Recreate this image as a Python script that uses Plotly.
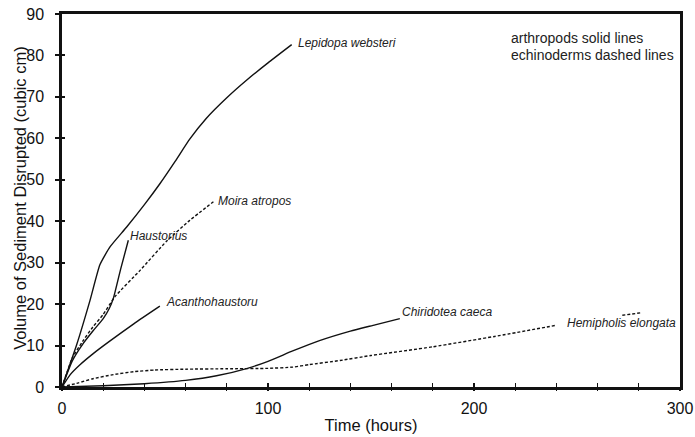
import plotly.graph_objects as go

# ---- data ----
lep_x = [0, 7, 13.6, 18.4, 23.3, 31.4, 40, 47.6, 55, 62, 70, 80, 90, 100, 111.5]
lep_y = [0, 10, 20.9, 29.5, 33.8, 38.6, 44, 49.1, 54.5, 59.8, 64.8, 69.8, 74.2, 78.2, 82.6]

hau_x = [0, 5, 10, 15, 20, 23, 25, 28.5, 32.2]
hau_y = [0, 6.3, 10.3, 13.5, 16.5, 19, 21.5, 28.5, 35.4]

aca_x = [0, 4, 9, 15, 23, 35, 47.5]
aca_y = [0, 3, 5.5, 8, 11, 15.3, 19.5]

chi_x = [0, 20, 40, 60, 75, 90, 100, 112, 125, 140, 152, 164]
chi_y = [0, 0.3, 0.8, 1.6, 2.7, 4.5, 6.2, 8.7, 11.2, 13.5, 15, 16.5]

moi_x = [0, 5, 10, 15, 20, 25.7, 38, 50.8, 62, 73.5]
moi_y = [0, 7, 11, 14.5, 17.5, 21.8, 28.2, 35.2, 40.2, 44.7]

hem_x = [0, 8, 15, 25, 35, 45, 60, 80, 100, 112, 120, 135, 150, 180, 210, 240, None, 272, 281]
hem_y = [0, 1, 2, 3, 3.7, 4.1, 4.3, 4.4, 4.5, 4.8, 5.4, 6.4, 7.6, 9.7, 12.2, 14.9, None, 17.3, 17.9]

labels = ["Lepidopa websteri", "Haustorius", "Acanthohaustoru",
          "Chiridotea caeca", "Moira atropos", "Hemipholis elongata"]
label_x = [113.6, 32, 49.5, 164, 74.8, 244]
label_y = [83, 36.4, 20.5, 18, 44.9, 15.5]

legend_lines = ["arthropods solid lines", "echinoderms dashed lines"]
legend_y = [84.2, 80.1]

x_ticks = [0, 100, 200, 300]
y_ticks = [0, 10, 20, 30, 40, 50, 60, 70, 80, 90]

FAM = "Liberation Sans, Arial, Helvetica"

fig = go.Figure()
solid = [(lep_x, lep_y), (hau_x, hau_y), (aca_x, aca_y), (chi_x, chi_y)]
dashed = [(moi_x, moi_y), (hem_x, hem_y)]
for xs, ys in solid:
    fig.add_trace(go.Scatter(x=xs, y=ys, mode="lines", showlegend=False,
                             line=dict(color="#111", width=1.4, shape="spline", smoothing=0.5)))
for xs, ys in dashed:
    fig.add_trace(go.Scatter(x=xs, y=ys, mode="lines", showlegend=False, connectgaps=False,
                             line=dict(color="#111", width=1.4, dash="3px,2px",
                                       shape="spline", smoothing=0.5)))

ann = []
for t, x, y in zip(labels, label_x, label_y):
    ann.append(dict(x=x, y=y, xref="x", yref="y", text=f"<i>{t}</i>", showarrow=False,
                    xanchor="left", yanchor="middle",
                    font=dict(family=FAM, size=12, color="#222")))
for t, y in zip(legend_lines, legend_y):
    ann.append(dict(x=217, y=y, xref="x", yref="y", text=t, showarrow=False,
                    xanchor="left", yanchor="middle",
                    font=dict(family=FAM, size=14, color="#222")))
# y-axis title
ann.append(dict(x=-0.068, y=0.507, xref="paper", yref="paper",
                text="Volume of Sediment Disrupted (cubic cm)", textangle=-90,
                showarrow=False, xanchor="center", yanchor="middle",
                font=dict(family=FAM, size=16.5, color="#111")))

fig.update_layout(
    width=695, height=437,
    margin=dict(l=62, r=15, t=14, b=50),
    paper_bgcolor="white", plot_bgcolor="white",
    font=dict(family=FAM, size=16, color="#111"),
    annotations=ann,
    xaxis=dict(range=[0, 300], tickvals=x_ticks, ticks="inside", ticklen=4, tickwidth=1.5,
               tickcolor="#111", minor=dict(dtick=20, ticks="inside", ticklen=4, tickwidth=1.2,
                                            tickcolor="#111"),
               showline=True, linewidth=2.5, linecolor="#111", mirror=True, showgrid=False,
               zeroline=False, tickfont=dict(size=16), automargin=False, ticklabelstandoff=5,
               title=dict(text="Time (hours)", font=dict(size=16.5), standoff=4)),
    yaxis=dict(range=[0, 90], tickvals=y_ticks, ticks="outside", ticklen=4, tickwidth=1.5,
               tickcolor="#111", showline=True, linewidth=2.5, linecolor="#111", mirror=True,
               showgrid=False, zeroline=False, tickfont=dict(size=16), automargin=False,
               ticklabelstandoff=8),
    xaxis2=dict(range=[0, 300], overlaying="x", anchor="y", side="bottom", tickvals=x_ticks,
                ticks="outside", ticklen=3, tickwidth=1.5, tickcolor="#111", showticklabels=False,
                minor=dict(dtick=20, ticks="outside", ticklen=3, tickwidth=1.2, tickcolor="#111"),
                showline=False, showgrid=False, zeroline=False, automargin=False),
    yaxis2=dict(range=[0, 90], overlaying="y", anchor="x", side="left", tickvals=y_ticks,
                ticks="inside", ticklen=3, tickwidth=1.5, tickcolor="#111", showticklabels=False,
                showline=False, showgrid=False, zeroline=False, automargin=False),
)
# empty trace so the overlay axes are drawn
fig.add_trace(go.Scatter(x=[None], y=[None], xaxis="x2", yaxis="y2", showlegend=False,
                         hoverinfo="skip"))
fig.write_html("out.html")
